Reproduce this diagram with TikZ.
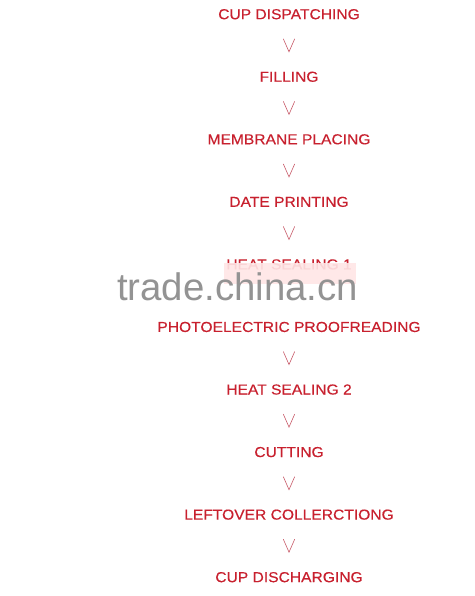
\documentclass[tikz,border=0pt]{standalone}
\usepackage{fontspec}
\setmainfont[FakeStretch=1.08,FakeBold=0.3]{Liberation Sans}
\newfontfamily\wmfont{Liberation Sans}
\definecolor{stepred}{HTML}{C8202E}
\definecolor{arrowred}{HTML}{C85A68}
\definecolor{wmgray}{HTML}{939393}
\begin{document}
\begin{tikzpicture}[x=1bp,y=-1bp,
  stepbox/.style={inner sep=0pt,text=stepred,font=\fontsize{14.5}{16}\selectfont,anchor=base},
  varrow/.style={draw=arrowred,line width=0.6bp,line join=miter}]
\useasboundingbox (0,0) rectangle (475,596);
\fill[white] (0,0) rectangle (475,596);
\foreach \t [count=\i from 0] in {CUP DISPATCHING,FILLING,MEMBRANE PLACING,DATE PRINTING,HEAT SEALING 1,PHOTOELECTRIC PROOFREADING,HEAT SEALING 2,CUTTING,LEFTOVER COLLERCTIONG,CUP DISCHARGING}{
  \node[stepbox] (s\i) at (289,{14+62.55*\i+5.2}) {\t};
}
\foreach \i in {0,1,2,3,5,6,7,8}{
  \pgfmathsetmacro{\ym}{14+62.55*\i+31.3}
  \coordinate (al\i) at (283.3,\ym-6.5);
  \coordinate (ab\i) at (289,\ym+6.5);
  \coordinate (ar\i) at (294.7,\ym-6.5);
  \draw[varrow] (al\i) -- (ab\i) -- (ar\i);
}
% washed-out band over the lower part of HEAT SEALING 1
\fill[white,opacity=0.88] (215,262.5) rectangle (365,300);
\fill[red!35,opacity=0.25] (224,262.5) rectangle (356,284);
\node[font=\wmfont\fontsize{38.5}{40}\selectfont,text=wmgray,inner sep=0pt,anchor=base] (wm) at (237.5,300) {trade.china.cn};
\end{tikzpicture}
\end{document}
